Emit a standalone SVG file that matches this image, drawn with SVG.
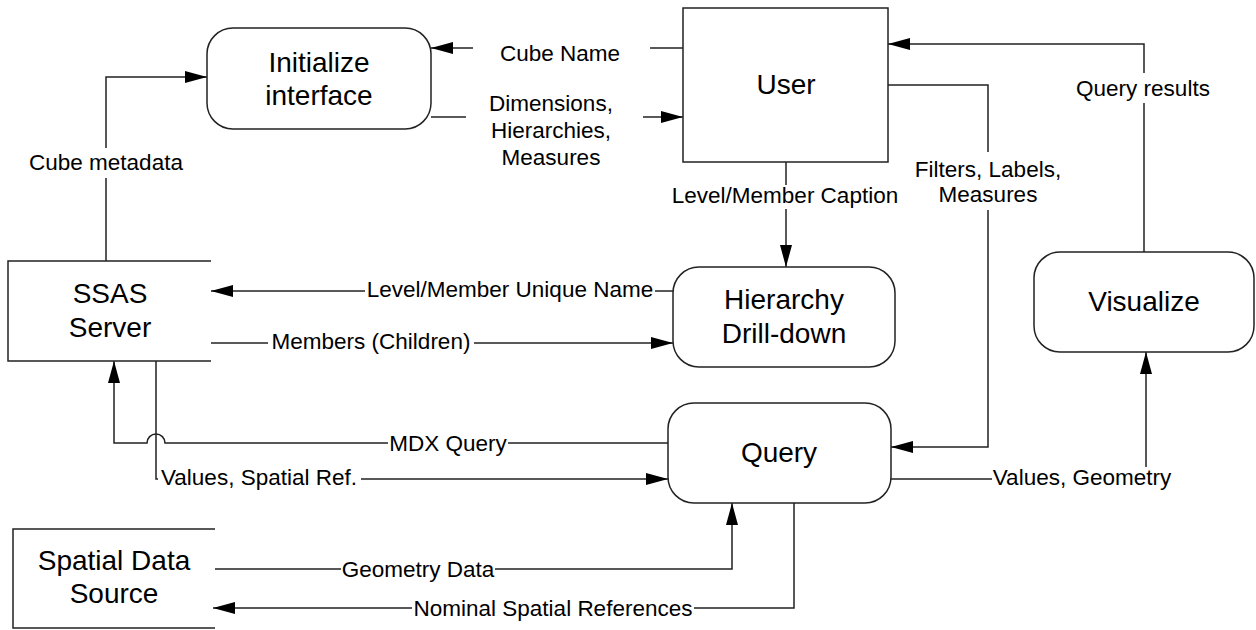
<svg xmlns="http://www.w3.org/2000/svg" width="1256" height="630" viewBox="0 0 1256 630">
<style>
.box{fill:#fff;stroke:#222;stroke-width:1.5}
.open{fill:none;stroke:#222;stroke-width:1.5}
.node{font-family:"Liberation Sans",Arial,sans-serif;font-size:28px;fill:#000;text-anchor:middle}
.lbl{font-family:"Liberation Sans",Arial,sans-serif;font-size:22.5px;fill:#000;text-anchor:middle}
.conn{fill:none;stroke:#222;stroke-width:1.5;marker-end:url(#arr)}
.plain{fill:none;stroke:#222;stroke-width:1.5}
.bg{fill:#fff;stroke:none}
</style>
<defs>
<marker id="arr" markerUnits="userSpaceOnUse" markerWidth="22" markerHeight="12" refX="22" refY="6" orient="auto">
<path d="M0,0 L22,6 L0,12 z" fill="#000"/>
</marker>
</defs>
<rect width="1256" height="630" fill="#fff"/>
<g id="connectors">
<path class="conn" d="M683,48 L431,48"/>
<path class="conn" d="M431,117 L683,117"/>
<path class="conn" d="M106,261 L106,77 L207,77"/>
<path class="conn" d="M786,162 L786,267"/>
<path class="conn" d="M888,85 L988,85 L988,447 L891,447"/>
<path class="conn" d="M1144,252 L1144,44 L888,44"/>
<path class="conn" d="M673,291 L211,291"/>
<path class="conn" d="M211,343 L673,343"/>
<path class="conn" d="M668,443 L165,443 A9,9 0 0 0 147,443 L114,443 L114,361"/>
<path class="conn" d="M156,361 L156,479 L668,479"/>
<path class="conn" d="M891,479 L1146,479 L1146,352"/>
<path class="conn" d="M215,569 L732,569 L732,503"/>
<path class="conn" d="M794,503 L794,608 L213,608"/>
</g>
<g id="labels">
<g id="lbl-cube-name"><rect class="bg" x="473" y="40" width="177" height="28"/><text class="lbl" x="560" y="61">Cube Name</text></g>
<g id="lbl-dimensions"><rect class="bg" x="466" y="92" width="177" height="80"/><text class="lbl" x="551" y="111">Dimensions,</text><text class="lbl" x="551" y="138">Hierarchies,</text><text class="lbl" x="551" y="165">Measures</text></g>
<g id="lbl-cube-metadata"><rect class="bg" x="30" y="148" width="152" height="30"/><text class="lbl" x="106" y="170">Cube metadata</text></g>
<g id="lbl-caption"><rect class="bg" x="670" y="185" width="230" height="24"/><text class="lbl" x="785" y="203">Level/Member Caption</text></g>
<g id="lbl-filters"><rect class="bg" x="900" y="152" width="176" height="58"/><text class="lbl" x="988" y="177">Filters, Labels,</text><text class="lbl" x="988" y="202">Measures</text></g>
<g id="lbl-query-results"><rect class="bg" x="1076" y="73" width="134" height="30"/><text class="lbl" x="1143" y="96">Query results</text></g>
<g id="lbl-unique-name"><rect class="bg" x="365" y="278" width="290" height="25"/><text class="lbl" x="510" y="297">Level/Member Unique Name</text></g>
<g id="lbl-members"><rect class="bg" x="268" y="330" width="206" height="25"/><text class="lbl" x="371" y="349">Members (Children)</text></g>
<g id="lbl-mdx"><rect class="bg" x="388" y="432" width="120" height="24"/><text class="lbl" x="448" y="451">MDX Query</text></g>
<g id="lbl-values-spatial"><rect class="bg" x="158" y="466" width="203" height="25"/><text class="lbl" x="161" y="485" style="text-anchor:start">Values, Spatial Ref.</text></g>
<g id="lbl-values-geometry"><rect class="bg" x="992" y="467" width="181" height="24"/><text class="lbl" x="1082" y="485">Values, Geometry</text></g>
<g id="lbl-geometry-data"><rect class="bg" x="341" y="558" width="154" height="24"/><text class="lbl" x="418" y="577">Geometry Data</text></g>
<g id="lbl-nominal"><rect class="bg" x="412" y="597" width="282" height="24"/><text class="lbl" x="553" y="616">Nominal Spatial References</text></g>
</g>
<g id="node-initialize"><rect class="box" x="207" y="28" width="224" height="101" rx="26" ry="26"/><text class="node" x="319" y="72">Initialize</text><text class="node" x="319" y="105">interface</text></g>
<g id="node-user"><rect class="box" x="683" y="8" width="205" height="154"/><text class="node" x="786" y="94">User</text></g>
<g id="node-ssas"><path class="open" d="M211,261 L8,261 L8,361 L211,361"/><text class="node" x="110" y="303">SSAS</text><text class="node" x="110" y="337">Server</text></g>
<g id="node-hierarchy"><rect class="box" x="673" y="267" width="222" height="100" rx="26" ry="26"/><text class="node" x="784" y="309">Hierarchy</text><text class="node" x="784" y="343">Drill-down</text></g>
<g id="node-visualize"><rect class="box" x="1034" y="252" width="220" height="100" rx="26" ry="26"/><text class="node" x="1144" y="311">Visualize</text></g>
<g id="node-query"><rect class="box" x="668" y="403" width="223" height="100" rx="26" ry="26"/><text class="node" x="779" y="462">Query</text></g>
<g id="node-spatial"><path class="open" d="M215,529 L13,529 L13,628 L215,628"/><text class="node" x="114" y="570">Spatial Data</text><text class="node" x="114" y="603">Source</text></g>
</svg>
